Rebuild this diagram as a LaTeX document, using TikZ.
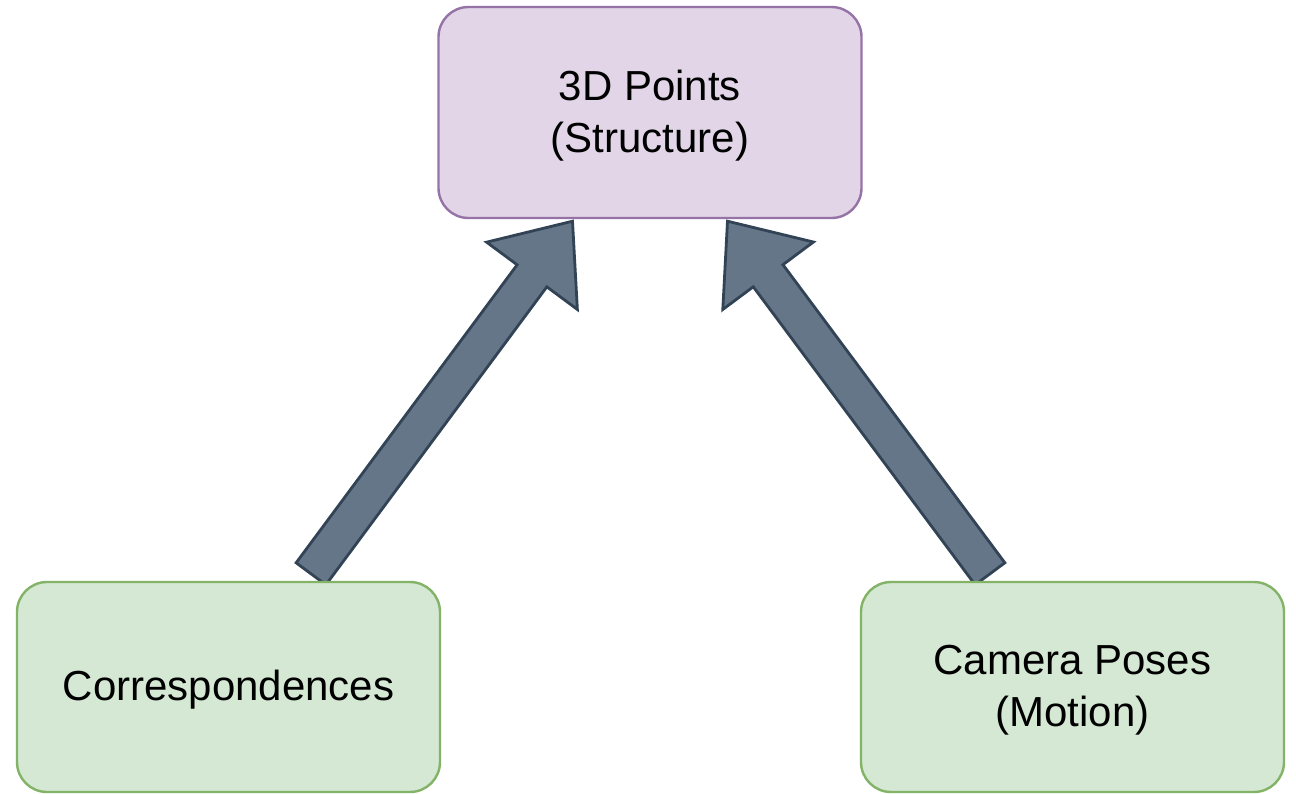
\documentclass[tikz,border=0pt]{standalone}
\usepackage{fontspec}
\setmainfont{Liberation Sans}
\usetikzlibrary{calc}
\pgfdeclarelayer{bg}
\pgfsetlayers{bg,main}
\definecolor{purfill}{HTML}{E1D5E7}
\definecolor{purline}{HTML}{9673A6}
\definecolor{grnfill}{HTML}{D5E8D4}
\definecolor{grnline}{HTML}{82B366}
\definecolor{arrfill}{HTML}{647687}
\definecolor{arrline}{HTML}{314354}
\newcommand{\myflexarrow}[2]{%
  \coordinate (hb#1) at ($(#2)!34pt!(#1)$);
  \draw[blockarrow] ($(#1)!9.25pt!90:(#2)$) -- ($(hb#1)!9.25pt!90:(#2)$)
    -- ($(hb#1)!28.25pt!90:(#2)$) -- (#2) -- ($(hb#1)!28.25pt!-90:(#2)$)
    -- ($(hb#1)!9.25pt!-90:(#2)$) -- ($(#1)!9.25pt!-90:(#2)$) -- cycle;}
\begin{document}
\begin{tikzpicture}[x=0.5pt,y=-0.5pt,
  box/.style={draw, line width=1.2pt, rounded corners=15pt, minimum width=211.5pt,
    minimum height=105pt, align=center, inner sep=0pt,
    font=\fontsize{21}{26}\selectfont},
  purbox/.style={box, fill=purfill, draw=purline},
  grnbox/.style={box, fill=grnfill, draw=grnline},
  blockarrow/.style={fill=arrfill, draw=arrline, line width=1.4pt, line join=miter}]
\useasboundingbox (0,0) rectangle (1296,793);
\node[purbox, minimum height=105.5pt] (pts) at (650,112.5) {\rule{0pt}{18pt}3D Points\\(Structure)};
\node[grnbox] (corr) at (228.5,687) {\rule{0pt}{18pt}Correspondences};
\node[grnbox] (cam) at (1072.5,687) {\rule{0pt}{18pt}Camera Poses\\(Motion)};
\coordinate (s1) at ($(corr.north)+(82.5,-7)$);
\coordinate (e1) at ($(pts.south)+(-77.5,2)$);
\coordinate (s2) at ($(cam.north)+(-82.5,-7)$);
\coordinate (e2) at ($(pts.south)+(77.5,2)$);
\begin{pgfonlayer}{bg}
\myflexarrow{s1}{e1}
\myflexarrow{s2}{e2}
\end{pgfonlayer}
\end{tikzpicture}
\end{document}
